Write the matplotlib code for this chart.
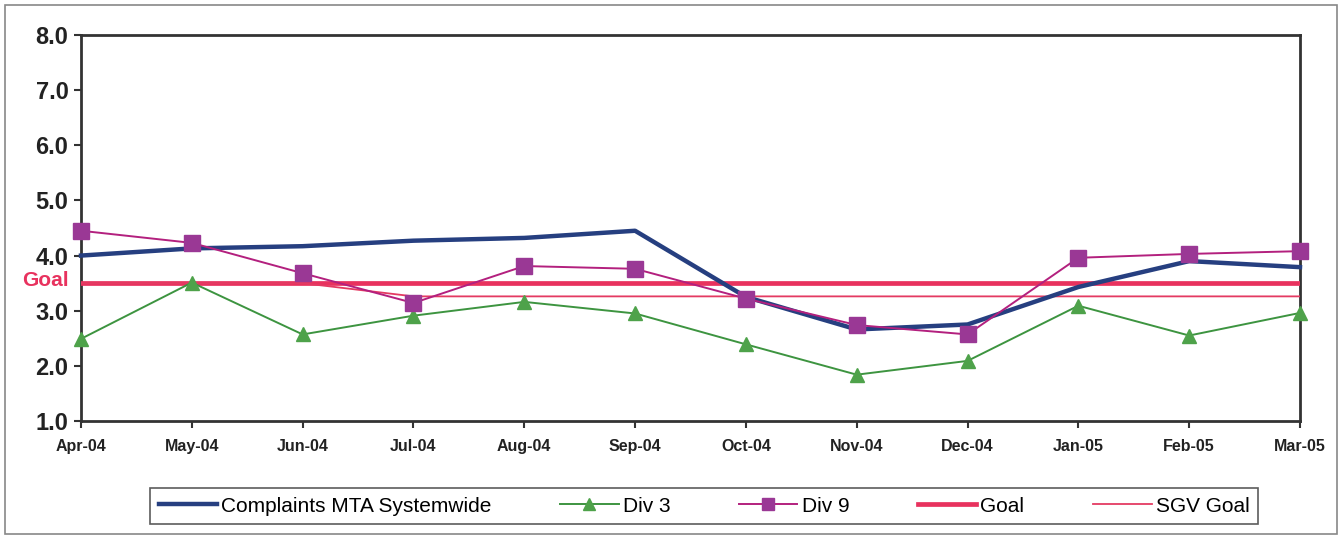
import matplotlib.pyplot as plt
from matplotlib.patches import Rectangle

months = ["Apr-04", "May-04", "Jun-04", "Jul-04", "Aug-04", "Sep-04",
          "Oct-04", "Nov-04", "Dec-04", "Jan-05", "Feb-05", "Mar-05"]
systemwide = [4.00, 4.13, 4.17, 4.27, 4.32, 4.45, 3.25, 2.66, 2.75, 3.43, 3.90, 3.79]
div3 = [2.49, 3.51, 2.57, 2.91, 3.16, 2.95, 2.39, 1.84, 2.09, 3.09, 2.55, 2.96]
div9 = [4.45, 4.23, 3.68, 3.14, 3.81, 3.76, 3.22, 2.74, 2.57, 3.96, 4.03, 4.08]
goal = [3.5] * 12
sgv_goal = [3.5, 3.5, 3.5] + [3.26] * 9

plt.rcParams['font.family'] = ['Liberation Sans', 'DejaVu Sans']

fig = plt.figure(figsize=(13.4, 5.37), dpi=100)
ax = fig.add_axes([81 / 1340, 1 - 421 / 537, 1219 / 1340, 386 / 537])

x = range(len(months))
ax.plot(x, systemwide, color='#263f80', lw=3.2, label='Complaints MTA Systemwide',
        zorder=4, clip_on=False)
ax.plot(x, div3, color='#3d9440', lw=1.4, marker='^', ms=10,
        mfc='#4ea24a', mec='#4ea24a', label='Div 3', zorder=5, clip_on=False)
ax.plot(x, div9, color='#b3207e', lw=1.4, marker='s', ms=11,
        mfc='#9a3895', mec='#9a3895', label='Div 9', zorder=6, clip_on=False)
ax.plot(x, goal, color='#e8325e', lw=3.4, label='Goal', zorder=3)
ax.plot(x, sgv_goal, color='#e43a62', lw=1.3, label='SGV Goal', zorder=3)

ax.set_xlim(0, len(months) - 1)
ax.set_ylim(1, 8)
ax.set_yticks([1, 2, 3, 4, 5, 6, 7, 8])
ax.set_yticklabels([f"{v:.1f}" for v in range(1, 9)], fontsize=17, fontweight='bold', color='#222222')
ax.set_xticks(list(x))
ax.set_xticklabels(months, fontsize=11.5, fontweight='bold', color='#222222')
ax.tick_params(axis='both', direction='out', length=5, width=1.5, color='#333333')
ax.tick_params(axis='x', pad=8)
ax.tick_params(axis='y', pad=4)
for s in ax.spines.values():
    s.set_linewidth(2)
    s.set_color('#333333')

fig.text(22 / 1340, 1 - 280 / 537, 'Goal', color='#e8325e', fontsize=15,
         fontweight='bold', va='center', ha='left')

leg = ax.legend(loc='center', bbox_to_anchor=(704 / 1340, 1 - 506 / 537),
                bbox_transform=fig.transFigure, ncol=5, fontsize=15,
                frameon=True, fancybox=False, edgecolor='#333333',
                handlelength=2.8, columnspacing=3.3, handletextpad=0.2,
                borderpad=0.4, markerscale=0.8)
leg.get_frame().set_linewidth(1.2)

# thin frame around the whole chart
fig.patches.append(Rectangle((5 / 1340, 3 / 537), 1332 / 1340, 529 / 537,
                             transform=fig.transFigure, fill=False,
                             edgecolor='#888888', lw=1.2))

fig.savefig('out.png', dpi=100)
